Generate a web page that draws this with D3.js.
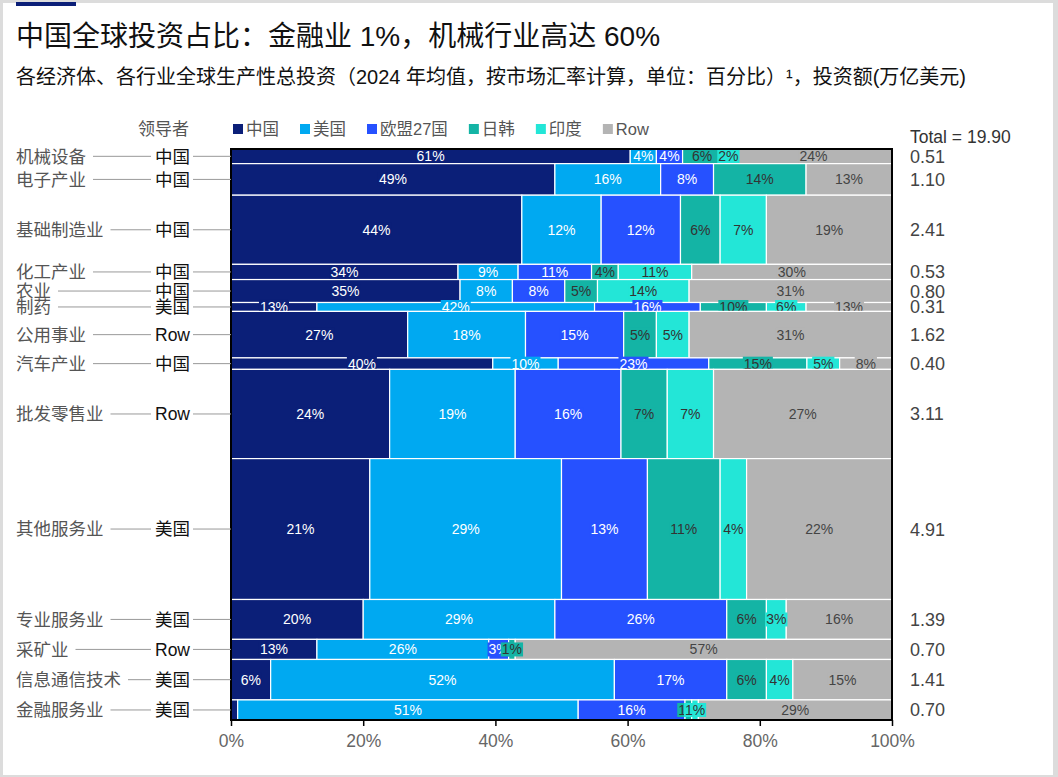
<!DOCTYPE html>
<html>
<head>
<meta charset="utf-8">
<script src="https://cdn.jsdelivr.net/npm/d3@7"></script>
<style>
  body { margin: 0; background: #fff; }
  svg { display: block; }
  text { font-family: "Liberation Sans", "Noto Sans CJK SC", sans-serif; }
</style>
</head>
<body>
<svg id="chart" width="1058" height="777"></svg>
<script>
// data
var sectors = ["机械设备", "电子产业", "基础制造业", "化工产业", "农业", "制药", "公用事业",
               "汽车产业", "批发零售业", "其他服务业", "专业服务业", "采矿业", "信息通信技术", "金融服务业"];
var leaders = ["中国", "中国", "中国", "中国", "中国", "美国", "Row",
               "中国", "Row", "美国", "美国", "Row", "美国", "美国"];
var amounts = [0.51, 1.10, 2.41, 0.53, 0.80, 0.31, 1.62, 0.40, 3.11, 4.91, 1.39, 0.70, 1.41, 0.70];
var regions = ["中国", "美国", "欧盟27国", "日韩", "印度", "Row"];
// share (%) of each region, per sector, same order as regions
var shares = [
  [61, 4, 4, 6, 2, 24],
  [49, 16, 8, 14, 0, 13],
  [44, 12, 12, 6, 7, 19],
  [34, 9, 11, 4, 11, 30],
  [35, 8, 8, 5, 14, 31],
  [13, 42, 16, 10, 6, 13],
  [27, 18, 15, 5, 5, 31],
  [40, 10, 23, 15, 5, 8],
  [24, 19, 16, 7, 7, 27],
  [21, 29, 13, 11, 4, 22],
  [20, 29, 26, 6, 3, 16],
  [13, 26, 3, 1, 0, 57],
  [6, 52, 17, 6, 4, 15],
  [1, 51, 16, 1, 1, 29]
];
var xTicks = [0, 20, 40, 60, 80, 100];

var colors = ["#0b1f78", "#00a9f1", "#2651ff", "#14b4a5", "#23e6d7", "#b4b4b4"];
var labelColors = ["#fff", "#fff", "#fff", "#333", "#333", "#444"];

var svg = d3.select("#chart");
var W = 1058, H = 777;

// frame
svg.append("rect").attr("width", W).attr("height", H).attr("fill", "#dcdcdc");
svg.append("rect").attr("x", 3).attr("y", 3).attr("width", W - 8).attr("height", H - 5).attr("fill", "#fff");
svg.append("rect").attr("x", 16).attr("y", 2).attr("width", 60).attr("height", 4).attr("fill", "#0b1f78");

svg.append("text").attr("x", 16).attr("y", 46)
  .attr("font-size", 28).attr("fill", "#111")
  .text("中国全球投资占比：金融业 1%，机械行业高达 60%");
svg.append("text").attr("x", 16).attr("y", 84)
  .attr("font-size", 20).attr("fill", "#111")
  .text("各经济体、各行业全球生产性总投资（2024 年均值，按市场汇率计算，单位：百分比）¹，投资额(万亿美元)");

var total = d3.sum(amounts);
var x = d3.scaleLinear().domain([0, 100]).range([231, 892]);
var y = d3.scaleLinear().domain([0, total]).range([149, 720]);

// rows
var rows = sectors.map(function(s, i) {
  var start = d3.sum(amounts.slice(0, i));
  var rowSum = d3.sum(shares[i]);
  var acc = 0;
  var segs = shares[i].map(function(v, j) {
    var p = v / rowSum * 100;
    var seg = {v: v, j: j, x0: acc, x1: acc + p};
    acc += p;
    return seg;
  });
  return {name: s, leader: leaders[i], amount: amounts[i], y0: start, y1: start + amounts[i], segs: segs};
});

var plot = svg.append("g");
var rowG = plot.selectAll("g.row").data(rows).enter().append("g").attr("class", "row");

rowG.selectAll("rect").data(function(d) { return d.segs.map(function(s) { return Object.assign({row: d}, s); }); })
  .enter().append("rect")
  .attr("x", function(d) { return x(d.x0); })
  .attr("width", function(d) { return Math.max(0, x(d.x1) - x(d.x0)); })
  .attr("y", function(d) { return y(d.row.y0); })
  .attr("height", function(d) { return y(d.row.y1) - y(d.row.y0); })
  .attr("fill", function(d) { return colors[d.j]; })
  .attr("stroke", "#fff").attr("stroke-width", 1.2);

// segment labels with a background of the segment colour
rowG.each(function(d) {
  var g = d3.select(this);
  var cy = (y(d.y0) + y(d.y1)) / 2;
  d.segs.forEach(function(s) {
    if (s.v < 1 || (s.j === 0 && s.v < 2)) return;
    var lg = g.append("g");
    var bg = lg.append("rect").attr("fill", colors[s.j]);
    var t = lg.append("text")
      .attr("x", (x(s.x0) + x(s.x1)) / 2).attr("y", cy).attr("dy", "0.36em")
      .attr("text-anchor", "middle").attr("font-size", 14)
      .attr("fill", labelColors[s.j]).text(s.v + "%");
    var b = t.node().getBBox();
    bg.attr("x", b.x - 1).attr("y", b.y + 1).attr("width", b.width + 2).attr("height", b.height - 2);
  });
});

// plot border
svg.append("rect").attr("x", x(0)).attr("y", y(0))
  .attr("width", x(100) - x(0)).attr("height", y(total) - y(0))
  .attr("fill", "none").attr("stroke", "#000").attr("stroke-width", 2);

// x axis
var xAxis = svg.append("g").attr("transform", "translate(0," + y(total) + ")")
  .call(d3.axisBottom(x).tickValues(xTicks).tickFormat(function(d) { return d + "%"; }).tickSize(6).tickPadding(9));
xAxis.select(".domain").remove();
xAxis.selectAll(".tick line").attr("stroke", "#000").attr("stroke-width", 1.5);
xAxis.selectAll(".tick text").attr("font-size", 17.5).attr("fill", "#666")
  .style("font-family", "'Liberation Sans', sans-serif");

// left labels, leaders, connectors, amounts
var left = svg.append("g");
rows.forEach(function(d) {
  var cy = (y(d.y0) + y(d.y1)) / 2;
  var t = left.append("text").attr("x", 16).attr("y", cy).attr("dy", "0.36em")
    .attr("font-size", 17.5).attr("fill", "#555").text(d.name);
  var end = 16 + t.node().getComputedTextLength();
  left.append("line").attr("x1", end + 7).attr("x2", 151).attr("y1", cy).attr("y2", cy)
    .attr("stroke", "#999").attr("stroke-width", 1);
  left.append("text").attr("x", 155).attr("y", cy).attr("dy", "0.36em")
    .attr("font-size", 17.5).attr("fill", "#111").text(d.leader);
  left.append("line").attr("x1", 193).attr("x2", x(0)).attr("y1", cy).attr("y2", cy)
    .attr("stroke", "#999").attr("stroke-width", 1);
  left.append("text").attr("x", 910).attr("y", cy).attr("dy", "0.36em")
    .attr("font-size", 18).attr("fill", "#444").text(d.amount.toFixed(2));
});

svg.append("text").attr("x", 910).attr("y", 137).attr("dy", "0.36em")
  .attr("font-size", 17.5).attr("fill", "#333").text("Total = " + total.toFixed(2));

// legend
svg.append("text").attr("x", 138).attr("y", 129).attr("dy", "0.36em")
  .attr("font-size", 17).attr("fill", "#555").text("领导者");
var lx = 233;
regions.forEach(function(r, i) {
  svg.append("rect").attr("x", lx).attr("y", 124).attr("width", 10).attr("height", 10).attr("fill", colors[i]);
  var t = svg.append("text").attr("x", lx + 13).attr("y", 129).attr("dy", "0.36em")
    .attr("font-size", 16.5).attr("fill", "#555").text(r);
  lx += 13 + t.node().getComputedTextLength() + 21;
});
</script>
</body>
</html>
